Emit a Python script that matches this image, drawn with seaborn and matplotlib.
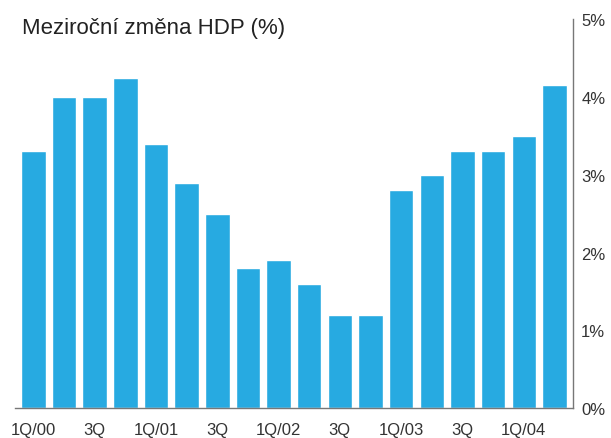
import matplotlib
matplotlib.use("Agg")
import matplotlib.pyplot as plt
import seaborn as sns
import pandas as pd

# =========================
# DATA
# =========================

quarters = ["1Q/00", "2Q/00", "3Q/00", "4Q/00",
            "1Q/01", "2Q/01", "3Q/01", "4Q/01",
            "1Q/02", "2Q/02", "3Q/02", "4Q/02",
            "1Q/03", "2Q/03", "3Q/03", "4Q/03",
            "1Q/04", "2Q/04"]
hdp = [3.3, 4.0, 4.0, 4.25, 3.4, 2.9, 2.5, 1.8, 1.9, 1.6,
       1.2, 1.2, 2.8, 3.0, 3.3, 3.3, 3.5, 4.15]
tick_labels = ["1Q/00", "", "3Q", "", "1Q/01", "", "3Q", "", "1Q/02", "",
               "3Q", "", "1Q/03", "", "3Q", "", "1Q/04", ""]
y_ticks = [0, 1, 2, 3, 4, 5]

df = pd.DataFrame({"ctvrtleti": quarters, "hdp": hdp})

# =========================
# GRAF
# =========================

sns.set_style("white")
plt.rcParams["font.family"] = ["Liberation Sans", "DejaVu Sans"]

fig = plt.figure(figsize=(6.11, 4.39), dpi=100)
ax = fig.add_axes([0.0245, 0.068, 0.913, 0.886])

sns.barplot(data=df, x="ctvrtleti", y="hdp", color="#27aae1",
            saturation=1, width=0.8, ax=ax)

ax.set_xlim(-0.6, 17.6)
ax.set_ylim(0, 5)
ax.set_xlabel("")
ax.set_ylabel("")

ax.set_xticks(range(len(quarters)))
ax.set_xticklabels(tick_labels)

ax.yaxis.tick_right()
ax.set_yticks(y_ticks)
ax.set_yticklabels([f"{v}%" for v in y_ticks])

ax.tick_params(axis="both", length=0, labelsize=12, colors="#333333")
ax.tick_params(axis="x", pad=10)
ax.tick_params(axis="y", pad=6)

for s in ["top", "left"]:
    ax.spines[s].set_visible(False)
ax.spines["right"].set_color("#777777")
ax.spines["bottom"].set_color("#777777")
ax.spines["right"].set_linewidth(1)
ax.spines["bottom"].set_linewidth(1)

fig.text(0.036, 0.935, "Meziroční změna HDP (%)", fontsize=16,
         color="#222222", ha="left", va="center")

fig.savefig("out.png", dpi=100)
